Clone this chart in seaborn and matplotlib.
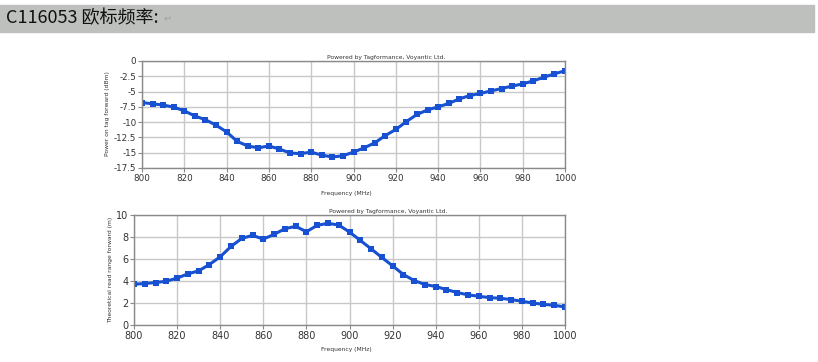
import numpy as np
import pandas as pd
import matplotlib
matplotlib.use("Agg")
import matplotlib.pyplot as plt
import seaborn as sns

# frequencies (MHz), one point every 5 MHz
freq = list(range(800, 1001, 5))

# power on tag forward (dBm)
power_dbm = [-6.8, -7.0, -7.2, -7.55, -8.15, -9.0, -9.6, -10.5, -11.6, -13.15,
             -13.9, -14.2, -13.9, -14.4, -15.05, -15.15, -14.9, -15.4, -15.7, -15.5,
             -14.9, -14.2, -13.4, -12.2, -11.2, -9.9, -8.75, -8.0, -7.5, -6.95,
             -6.2, -5.65, -5.3, -4.9, -4.5, -4.1, -3.75, -3.25, -2.65, -2.1, -1.6]

# theoretical read range forward (m)
range_m = [3.71, 3.77, 3.86, 3.98, 4.26, 4.65, 4.92, 5.5, 6.2, 7.14,
           7.87, 8.15, 7.81, 8.24, 8.75, 8.97, 8.48, 9.06, 9.24, 9.09,
           8.45, 7.69, 6.93, 6.14, 5.38, 4.59, 4.04, 3.68, 3.5, 3.22,
           2.95, 2.74, 2.61, 2.49, 2.43, 2.31, 2.16, 2.0, 1.88, 1.79, 1.64]

df = pd.DataFrame({"freq": freq, "power": power_dbm, "range": range_m})

sns.set_theme(style="whitegrid")
plt.rcParams['font.family'] = ['DejaVu Sans']

blue = "#1750d0"
grid_c = "#c8c8c8"
spine_c = "#8a8a8a"

fig = plt.figure(figsize=(8.18, 3.62), dpi=100)

# header band
fig.patches.append(plt.Rectangle((0, 1 - 32 / 362), 814 / 818, 27 / 362,
                                 transform=fig.transFigure, color="#bec0be", zorder=0))
fig.text(6 / 818, 1 - 18.5 / 362, "C116053 欧标频率:", fontsize=13, va="center", ha="left",
         family=['Noto Sans CJK SC', 'DejaVu Sans'], color="#111111")
fig.text(164 / 818, 1 - 19 / 362, "↵", fontsize=7, va="center", ha="left",
         family=['DejaVu Sans'], color="#a0a0a0")


def style_ax(ax, yticks, lab_size):
    ax.set_facecolor("white")
    ax.grid(True, color=grid_c, linewidth=1.0)
    for s in ax.spines.values():
        s.set_color(spine_c)
        s.set_linewidth(1.0)
    ax.set_xlim(800, 1000)
    ax.set_xticks(range(800, 1001, 20))
    ax.set_yticks(yticks)
    ax.tick_params(axis="both", which="both", length=3, width=0.8, color=spine_c,
                   labelsize=lab_size, pad=1, labelcolor="#333333")
    ax.tick_params(axis="both", bottom=True, left=True)
    ax.set_xlabel("")
    ax.set_ylabel("")


# top chart: power on tag
ax1 = fig.add_axes([142 / 818, 1 - 168 / 362, 423 / 818, 107 / 362])
sns.lineplot(data=df, x="freq", y="power", ax=ax1, color=blue, linewidth=2.2,
             marker="s", markersize=4.2, markeredgewidth=0, markerfacecolor=blue)
style_ax(ax1, np.arange(-17.5, 0.1, 2.5), 6.3)
ax1.set_ylim(-17.5, 0)
ax1.set_yticklabels(["-17.5", "-15", "-12.5", "-10", "-7.5", "-5", "-2.5", "0"])

# bottom chart: read range
ax2 = fig.add_axes([134 / 818, 1 - 325 / 362, 431 / 818, 110 / 362])
sns.lineplot(data=df, x="freq", y="range", ax=ax2, color=blue, linewidth=2.2,
             marker="s", markersize=4.2, markeredgewidth=0, markerfacecolor=blue)
style_ax(ax2, range(0, 11, 2), 7)
ax2.set_ylim(0, 10)

# small captions
small = dict(fontsize=4.3, color="#333333", ha="center", va="center")
fig.text(386 / 818, 1 - 57 / 362, "Powered by Tagformance, Voyantic Ltd.", **small)
fig.text(388 / 818, 1 - 212 / 362, "Powered by Tagformance, Voyantic Ltd.", **small)
fig.text(346 / 818, 1 - 193 / 362, "Frequency (MHz)", **small)
fig.text(346 / 818, 1 - 350 / 362, "Frequency (MHz)", **small)
fig.text(108 / 818, 1 - 114 / 362, "Power on tag forward (dBm)", rotation=90, **small)
fig.text(111 / 818, 1 - 270 / 362, "Theoretical read range forward (m)", rotation=90, **small)

fig.savefig("out.png", dpi=100, facecolor="white")
